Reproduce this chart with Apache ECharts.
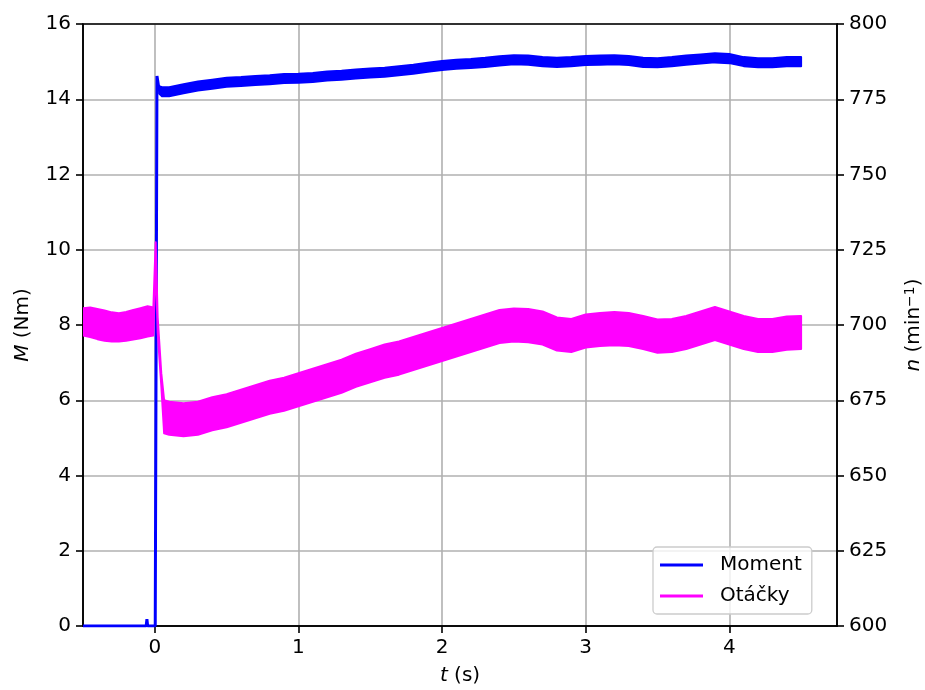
<!DOCTYPE html>
<html>
<head>
<meta charset="utf-8">
<script src="https://cdn.jsdelivr.net/npm/echarts@6/dist/echarts.min.js"></script>
<style>html,body{margin:0;padding:0;background:#fff}#c{width:925px;height:690px}</style>
</head>
<body>
<div id="c"></div>
<script>
// ---- data ----
const xTicks = [0, 1, 2, 3, 4];

// Moment (Nm): thin line part before/at the step
const tM0 = [-0.5, -0.375, -0.37, -0.365, -0.06, -0.055, -0.05, 0.003, 0.015, 0.03, 0.05];
const m0  = [0, 0, 0.04, 0, 0, 0.18, 0, 0, 14.62, 14.25, 14.2];

// Moment band (upper / lower envelope) after the step
const tM = [0.03, 0.05, 0.1, 0.2, 0.3, 0.4, 0.5, 0.6, 0.7, 0.8, 0.9, 1.0, 1.1, 1.2, 1.3, 1.4, 1.5, 1.6, 1.7, 1.8, 1.9, 2.0, 2.1, 2.2, 2.3, 2.4, 2.5, 2.6, 2.7, 2.8, 2.9, 3.0, 3.1, 3.2, 3.3, 3.4, 3.5, 3.6, 3.7, 3.8, 3.9, 4.0, 4.1, 4.2, 4.3, 4.4, 4.5];
const mHi = [14.35, 14.32, 14.32, 14.4, 14.47, 14.52, 14.57, 14.59, 14.62, 14.64, 14.67, 14.68, 14.7, 14.74, 14.76, 14.79, 14.82, 14.84, 14.88, 14.92, 14.97, 15.02, 15.05, 15.07, 15.1, 15.14, 15.17, 15.16, 15.12, 15.1, 15.12, 15.15, 15.16, 15.17, 15.15, 15.1, 15.09, 15.12, 15.16, 15.19, 15.22, 15.2, 15.12, 15.09, 15.09, 15.12, 15.12];
const mLo = [14.15, 14.08, 14.08, 14.16, 14.23, 14.28, 14.33, 14.35, 14.38, 14.4, 14.43, 14.44, 14.46, 14.5, 14.52, 14.55, 14.58, 14.6, 14.64, 14.68, 14.73, 14.78, 14.81, 14.83, 14.86, 14.9, 14.93, 14.92, 14.88, 14.86, 14.88, 14.91, 14.92, 14.93, 14.91, 14.86, 14.85, 14.88, 14.92, 14.95, 14.98, 14.96, 14.88, 14.85, 14.85, 14.88, 14.88];

// Otáčky (min^-1): upper / lower envelope of the oscillating band
const tN = [-0.5, -0.45, -0.4, -0.35, -0.3, -0.25, -0.2, -0.15, -0.1, -0.05, -0.01, 0.006, 0.02, 0.045, 0.065, 0.1, 0.2, 0.3, 0.4, 0.5, 0.6, 0.7, 0.8, 0.9, 1.0, 1.1, 1.2, 1.3, 1.4, 1.5, 1.6, 1.7, 1.8, 1.9, 2.0, 2.1, 2.2, 2.3, 2.4, 2.5, 2.6, 2.7, 2.8, 2.9, 3.0, 3.1, 3.2, 3.3, 3.4, 3.5, 3.6, 3.7, 3.8, 3.9, 4.0, 4.1, 4.2, 4.3, 4.4, 4.5];
const nHi = [705.6, 705.8, 705.3, 704.8, 704.2, 703.9, 704.3, 705, 705.6, 706.2, 705.8, 727.5, 702.5, 684, 675, 674.5, 674, 674.5, 676, 677, 678.5, 680, 681.5, 682.5, 684, 685.5, 687, 688.5, 690.5, 692, 693.5, 694.5, 696, 697.5, 699, 700.5, 702, 703.5, 705, 705.5, 705.3, 704.5, 702.5, 702, 703.5, 704, 704.3, 704, 703, 701.8, 702, 703, 704.5, 706, 704.5, 703, 702, 702, 702.8, 703];
const nLo = [696.5, 696, 695.3, 694.8, 694.5, 694.5, 694.8, 695.2, 695.6, 696.2, 696.5, 721.5, 697.5, 680, 664, 663.5, 663, 663.5, 665, 666, 667.5, 669, 670.5, 671.5, 673, 674.5, 676, 677.5, 679.5, 681, 682.5, 683.5, 685, 686.5, 688, 689.5, 691, 692.5, 694, 694.5, 694.3, 693.5, 691.5, 691, 692.5, 693, 693.3, 693, 692, 690.8, 691, 692, 693.5, 695, 693.5, 692, 691, 691, 691.8, 692];

// ---- chart ----
const FONT = 'DejaVu Sans';
const BLUE = '#0000ff', MAG = '#ff00ff';
const zip = (a, b) => a.map((v, i) => [v, b[i]]);

function bandSeries(name, yAxisIndex, ts, hi, lo, color, z) {
  return {
    name, type: 'custom', yAxisIndex, coordinateSystem: 'cartesian2d', clip: true, z,
    itemStyle: {color},
    data: [[ts[0], hi[0]]],
    renderItem: function (params, api) {
      const pts = [];
      for (let i = 0; i < ts.length; i++) pts.push(api.coord([ts[i], hi[i]]));
      for (let i = ts.length - 1; i >= 0; i--) pts.push(api.coord([ts[i], lo[i]]));
      return {type: 'polygon', shape: {points: pts},
              style: {fill: color, stroke: color, lineWidth: 2, lineJoin: 'round'}};
    }
  };
}

const chart = echarts.init(document.getElementById('c'), null, {renderer: 'canvas'});
const axisLineStyle = {color: '#000', width: 1.6};
const labelStyle = {color: '#000', fontSize: 20, fontFamily: FONT};
const nameStyle = {color: '#000', fontSize: 20, fontFamily: FONT,
  rich: {i: {fontStyle: 'italic', fontSize: 20, fontFamily: FONT, color: '#000'},
         s: {fontSize: 14, fontFamily: FONT, color: '#000', verticalAlign: 'top', padding: [0, 0, 8, 0]}}};

chart.setOption({
  animation: false,
  backgroundColor: '#fff',
  grid: {left: 83, top: 24, width: 754, height: 602, show: true, borderColor: '#000', borderWidth: 1.6, z: 1,
         backgroundColor: 'transparent', containLabel: false, outerBoundsMode: 'none'},
  legend: {
    orient: 'vertical', left: 653, top: 547, z: 6,
    data: [{name: 'Moment', itemStyle: {color: BLUE}}, {name: 'Otáčky', itemStyle: {color: MAG}}],
    icon: 'rect', itemWidth: 43, itemHeight: 3, itemGap: 11,
    padding: [8, 10, 8, 7],
    backgroundColor: 'rgba(255,255,255,0.8)', borderColor: '#cccccc', borderWidth: 1.3, borderRadius: 4,
    textStyle: {color: '#000', fontSize: 20, fontFamily: FONT, padding: [0, 0, 0, 12]}
  },
  xAxis: {
    type: 'value', min: -0.5, max: 4.75,
    name: '{i|t} (s)', nameLocation: 'middle', nameGap: 40, nameTextStyle: nameStyle,
    axisLine: {onZero: false, lineStyle: axisLineStyle},
    axisTick: {show: true, length: 7, lineStyle: axisLineStyle, customValues: xTicks},
    axisLabel: {margin: 12, ...labelStyle, customValues: xTicks},
    splitLine: {show: true, lineStyle: {color: '#b0b0b0', width: 1.6}}
  },
  yAxis: [{
    type: 'value', min: 0, max: 16, interval: 2, position: 'left',
    name: '{i|M} (Nm)', nameLocation: 'middle', nameGap: 50, nameTextStyle: nameStyle,
    axisLine: {show: true, onZero: false, lineStyle: axisLineStyle},
    axisTick: {show: true, length: 7, lineStyle: axisLineStyle},
    axisLabel: {margin: 12, ...labelStyle},
    splitLine: {show: true, lineStyle: {color: '#b0b0b0', width: 1.6}}
  }, {
    type: 'value', min: 600, max: 800, interval: 25, position: 'right',
    name: '{i|n} (min{s|−1})', nameLocation: 'middle', nameGap: 66, nameTextStyle: nameStyle,
    axisLine: {show: true, onZero: false, lineStyle: axisLineStyle},
    axisTick: {show: true, length: 7, lineStyle: axisLineStyle},
    axisLabel: {margin: 12, ...labelStyle},
    splitLine: {show: false}
  }],
  series: [
    {name: 'Moment', type: 'line', yAxisIndex: 0, data: zip(tM0, m0), showSymbol: false, symbol: 'none',
     lineStyle: {color: BLUE, width: 3}, itemStyle: {color: BLUE}, z: 3},
    bandSeries('Moment', 0, tM, mHi, mLo, BLUE, 3),
    bandSeries('Otáčky', 1, tN, nHi, nLo, MAG, 4)
  ]
});
</script>
</body>
</html>
